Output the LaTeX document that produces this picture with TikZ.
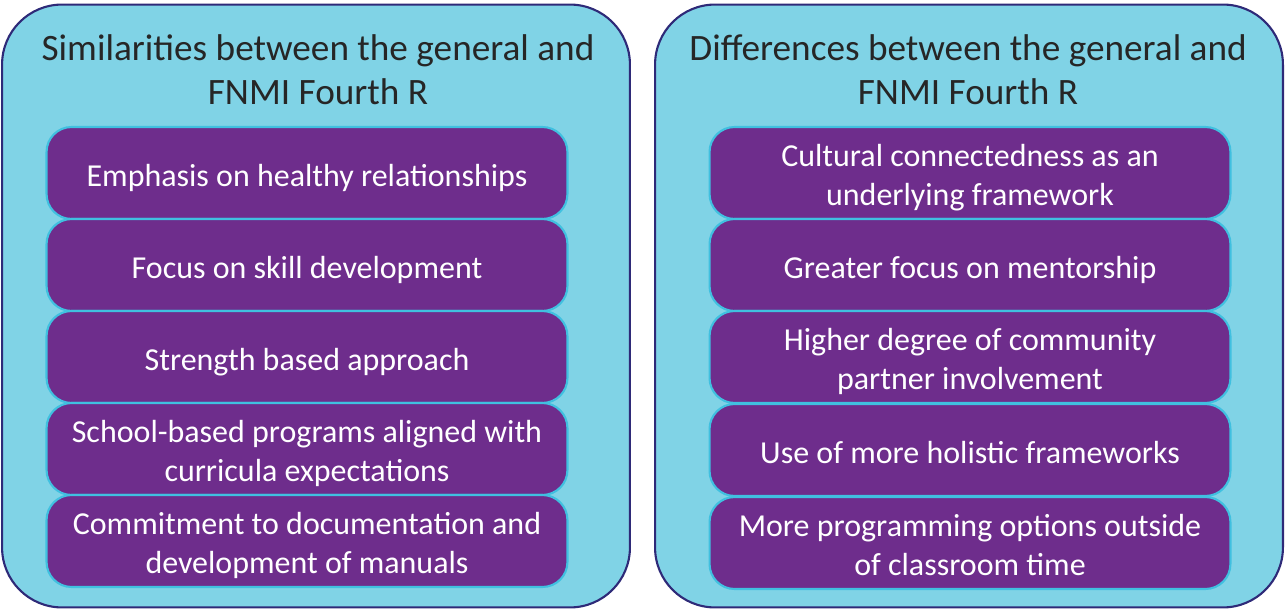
\documentclass[tikz,border=0pt]{standalone}
\usepackage{fontspec}
\setmainfont{Carlito}
\definecolor{panelfill}{HTML}{80D3E6}
\definecolor{paneledge}{HTML}{2E2A78}
\definecolor{itemfill}{HTML}{6E2D8C}
\definecolor{itemedge}{HTML}{40C0E0}
\begin{document}
\begin{tikzpicture}[x=0.02cm, y=-0.02cm]
	\tikzset{panel/.style={draw=paneledge, fill=panelfill, line width=1.2pt, rounded corners=1.2cm, minimum width=12.56cm, minimum height=12.06cm},
		title/.style={align=center, text=black!85, font=\fontsize{21.2}{25}\selectfont},
		item/.style={draw=itemedge, fill=itemfill, line width=1.2pt, rounded corners=0.5cm, minimum width=10.42cm, minimum height=1.84cm, align=center, text=white, font=\fontsize{18.2}{22.5}\selectfont},
		oneline/.style={text height=0.6cm, text depth=0.06cm},
		twoline/.style={text height=1.34cm, text depth=0.02cm}}
	\useasboundingbox (0,0) rectangle (1286,611);
	% left panel
	\node[panel] (simpanel) at (316,306) {};
	\node[title] (simtitle) at (318,70) {Similarities between the general and\\FNMI Fourth R};
	\node[item, oneline] (sim1) at (307,173) {Emphasis on healthy relationships};
	\node[item, oneline] (sim2) at (307,265) {Focus on skill development};
	\node[item, oneline] (sim3) at (307,357) {Strength based approach};
	\node[item, twoline] (sim4) at (307,449) {School-based programs aligned with\\curricula expectations};
	\node[item, twoline] (sim5) at (307,541) {Commitment to documentation and\\development of manuals};
	% right panel
	\node[panel] (difpanel) at (969,306) {};
	\node[title] (diftitle) at (968,70) {Differences between the general and\\FNMI Fourth R};
	\node[item, twoline] (dif1) at (970,173) {Cultural connectedness as an\\underlying framework};
	\node[item, oneline] (dif2) at (970,265) {Greater focus on mentorship};
	\node[item, twoline] (dif3) at (970,357) {Higher degree of community\\partner involvement};
	\node[item, oneline] (dif4) at (970,450) {Use of more holistic frameworks};
	\node[item, twoline] (dif5) at (970,543) {More programming options outside\\of classroom time};
\end{tikzpicture}
\end{document}
